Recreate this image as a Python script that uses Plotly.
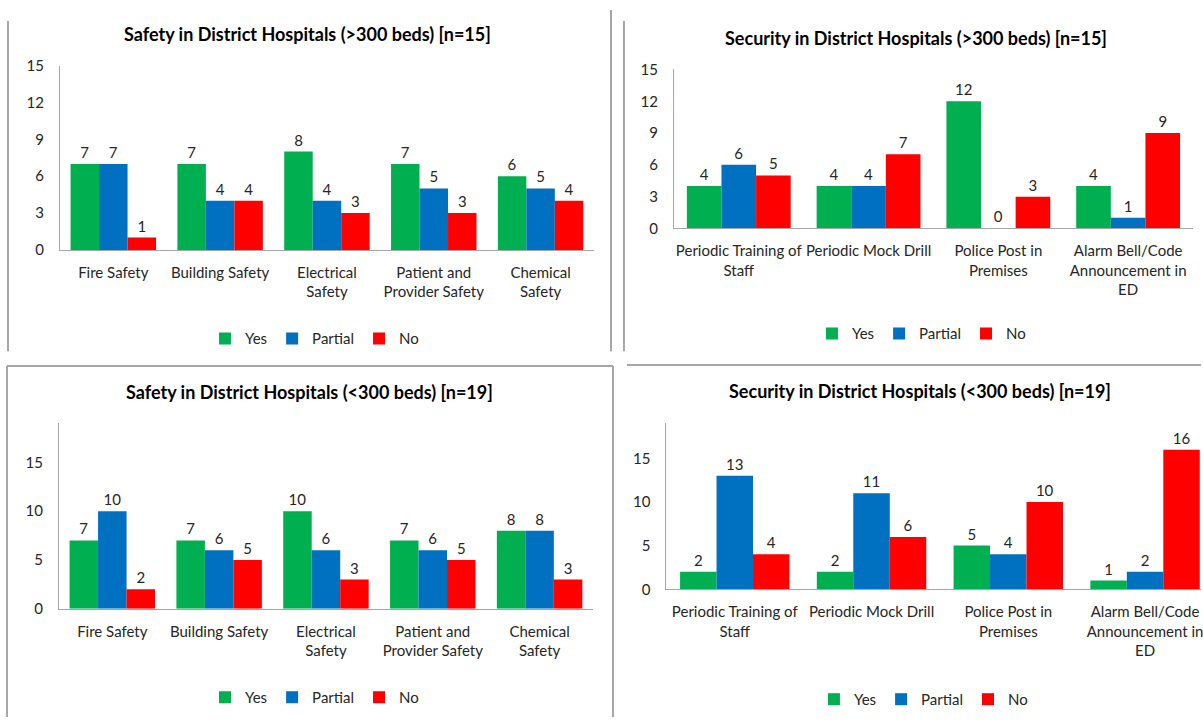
import plotly.graph_objects as go

# categories
safety_cats = ["Fire Safety", "Building Safety", "Electrical<br>Safety",
               "Patient and<br>Provider Safety", "Chemical<br>Safety"]
security_cats = ["Periodic Training of<br>Staff", "Periodic Mock Drill",
                 "Police Post in<br>Premises", "Alarm Bell/Code<br>Announcement in<br>ED"]

# >300 beds, n=15
safety_big_yes = [7, 7, 8, 7, 6]
safety_big_partial = [7, 4, 4, 5, 5]
safety_big_no = [1, 4, 3, 3, 4]

security_big_yes = [4, 4, 12, 4]
security_big_partial = [6, 4, 0, 1]
security_big_no = [5, 7, 3, 9]

# <300 beds, n=19
safety_small_yes = [7, 7, 10, 7, 8]
safety_small_partial = [10, 6, 6, 6, 8]
safety_small_no = [2, 5, 3, 5, 3]

security_small_yes = [2, 2, 5, 1]
security_small_partial = [13, 11, 4, 2]
security_small_no = [4, 6, 10, 16]

series_names = ["Yes", "Partial", "No"]
palette = ["#00B050", "#0070C0", "#FF0000"]

W, H = 1203, 725
FONT = "Lato"
TXT = "#262626"
EDGE = "#A6A6A6"


def px(x):
    return x / W


def py(y):
    return 1 - y / H


panels = [
    # title, cats, values, x axis px, y axis px, yrange, dtick, title pos, legend pos
    dict(title="Safety in District Hospitals (>300 beds) [n=15]", cats=safety_cats,
         vals=[safety_big_yes, safety_big_partial, safety_big_no],
         xd=(60, 595), yd=(246, 57), yr=[0, 15], dt=3,
         tpos=(308, 25), lpos=(315, 337)),
    dict(title="Security in District Hospitals (>300 beds) [n=15]", cats=security_cats,
         vals=[security_big_yes, security_big_partial, security_big_no],
         xd=(675, 1195), yd=(224, 61), yr=[0, 15], dt=3,
         tpos=(918, 29), lpos=(923, 332)),
    dict(title="Safety in District Hospitals (<300 beds) [n=19]", cats=safety_cats,
         vals=[safety_small_yes, safety_small_partial, safety_small_no],
         xd=(59, 594), yd=(614, 424), yr=[0, 19], dt=5,
         tpos=(310, 392), lpos=(315, 705)),
    dict(title="Security in District Hospitals (<300 beds) [n=19]", cats=security_cats,
         vals=[security_small_yes, security_small_partial, security_small_no],
         xd=(667.5, 1203), yd=(594, 424), yr=[0, 19], dt=5,
         tpos=(922, 391), lpos=(925, 707), xr=[-0.5, 3.409]),
]

fig = go.Figure()
layout = dict(annotations=[], shapes=[])

for i, p in enumerate(panels):
    n = "" if i == 0 else str(i + 1)
    leg = "legend" + n
    for name, color, vals in zip(series_names, palette, p["vals"]):
        fig.add_trace(go.Bar(
            x=p["cats"], y=vals, name=name,
            xaxis="x" + n, yaxis="y" + n, legend=leg,
            marker=dict(color=color, line=dict(width=0)),
            text=vals, textposition="outside", cliponaxis=False,
            textfont=dict(family=FONT, size=15, color=TXT),
            hoverinfo="skip",
        ))
    xa = dict(domain=[px(p["xd"][0]), px(p["xd"][1])], anchor="y" + n,
              showline=True, linecolor=EDGE, linewidth=1, showgrid=False,
              ticks="", ticklabelstandoff=9, tickangle=0,
              tickfont=dict(family=FONT, size=15, color=TXT), fixedrange=True)
    if "xr" in p:
        xa["range"] = p["xr"]
    ya = dict(domain=[py(p["yd"][0]), py(p["yd"][1])], anchor="x" + n,
              range=p["yr"], dtick=p["dt"], showline=True, linecolor=EDGE,
              linewidth=1, showgrid=False, zeroline=False, ticks="",
              ticklabelstandoff=12,
              tickfont=dict(family=FONT, size=15, color=TXT), fixedrange=True)
    layout["xaxis" + n] = xa
    layout["yaxis" + n] = ya
    layout[leg] = dict(orientation="h", x=px(p["lpos"][0]), y=py(p["lpos"][1]),
                       xanchor="center", yanchor="middle",
                       font=dict(family=FONT, size=15, color=TXT),
                       bgcolor="rgba(0,0,0,0)", itemwidth=30,
                       traceorder="normal")
    layout["annotations"].append(dict(
        text="<b>" + p["title"] + "</b>", x=px(p["tpos"][0]), y=py(p["tpos"][1]),
        xref="paper", yref="paper", xanchor="center", yanchor="middle",
        showarrow=False, font=dict(family=FONT, size=18, color="#000000")))

# panel frames
frame_lines = [
    (8, 11, 8, 350), (612, 0, 612, 350), (625, 11, 625, 350),
    (7, 365, 614, 365), (7, 365, 7, 725), (614, 365, 614, 725),
    (628, 364, 1203, 364),
]
for x0, y0, x1, y1 in frame_lines:
    layout["shapes"].append(dict(type="line", xref="paper", yref="paper",
                                 x0=px(x0), y0=py(y0), x1=px(x1), y1=py(y1),
                                 line=dict(color=EDGE, width=2)))

fig.update_layout(
    **layout,
    width=W, height=H,
    margin=dict(l=0, r=0, t=0, b=0),
    barmode="group", bargap=0.2, bargroupgap=0,
    paper_bgcolor="white", plot_bgcolor="white",
    font=dict(family=FONT, color=TXT),
)

fig.write_html("out.html", config={"displayModeBar": False},
               post_script="document.body.style.margin='0';")
